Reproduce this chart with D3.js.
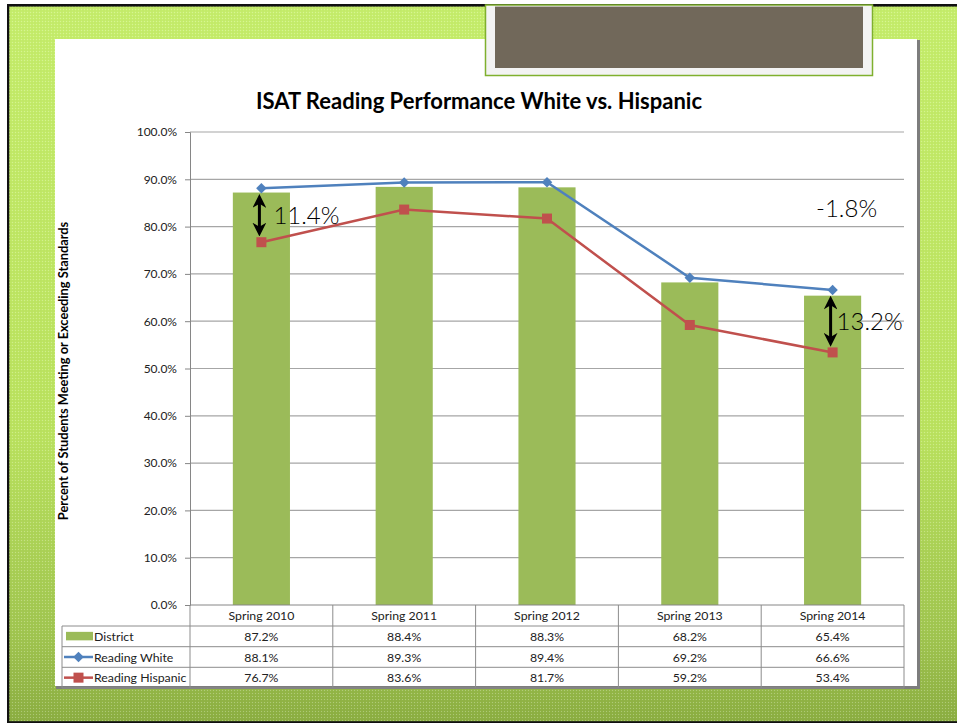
<!DOCTYPE html>
<html>
<head>
<meta charset="utf-8">
<script src="https://cdn.jsdelivr.net/npm/d3@7"></script>
<style>
  body { margin: 0; background: #fff; }
  svg { display: block; font-family: Lato, "Open Sans", sans-serif; }
</style>
</head>
<body>
<div id="viz"></div>
<script>
const width = 957;
const height = 723;

// chart values
const categories = ['Spring 2010', 'Spring 2011', 'Spring 2012', 'Spring 2013', 'Spring 2014'];
const district = [0.872, 0.884, 0.883, 0.682, 0.654];
const readingWhite = [0.881, 0.893, 0.894, 0.692, 0.666];
const readingHispanic = [0.767, 0.836, 0.817, 0.592, 0.534];
const seriesNames = ['District', 'Reading White', 'Reading Hispanic'];
const yTicks = [0, 0.1, 0.2, 0.3, 0.4, 0.5, 0.6, 0.7, 0.8, 0.9, 1.0];
const gapNotes = [{i: 0, text: '11.4%'}, {i: 4, text: '13.2%'}];
const changeNote = '-1.8%';

const colors = {district: '#9bbb59', white: '#4f81bd', hispanic: '#c0504d'};

const svg = d3.select('#viz')
  .append('svg')
    .attr('width', width)
    .attr('height', height);

// slide background
const defs = svg.append('defs');
const grad = defs.append('linearGradient')
    .attr('id', 'bg')
    .attr('x1', 0).attr('y1', 0).attr('x2', 0).attr('y2', 1);
grad.append('stop').attr('offset', '0%').attr('stop-color', '#c6ee6c');
grad.append('stop').attr('offset', '60%').attr('stop-color', '#bbe35f');
grad.append('stop').attr('offset', '88%').attr('stop-color', '#a1c650');
grad.append('stop').attr('offset', '100%').attr('stop-color', '#8caf42');

const pat = defs.append('pattern')
    .attr('id', 'dots')
    .attr('width', 3).attr('height', 3)
    .attr('patternUnits', 'userSpaceOnUse');
pat.append('rect').attr('width', 1).attr('height', 1).attr('fill', '#fff').attr('opacity', 0.28);
pat.append('rect').attr('x', 1.5).attr('y', 1.5).attr('width', 1).attr('height', 1).attr('fill', '#000').attr('opacity', 0.06);

svg.append('rect').attr('x', 7).attr('y', 4).attr('width', width - 7).attr('height', height - 4).attr('fill', '#111');
svg.append('rect').attr('x', 9.3).attr('y', 6.6).attr('width', width - 9.3).attr('height', 714.6).attr('fill', 'url(#bg)');
svg.append('rect').attr('x', 9.3).attr('y', 6.6).attr('width', width - 9.3).attr('height', 714.6).attr('fill', 'url(#dots)');

// white chart panel with shadow
svg.append('rect').attr('x', 56).attr('y', 40).attr('width', 864).attr('height', 649).attr('fill', '#7d7d7d');
svg.append('rect').attr('x', 55).attr('y', 39).attr('width', 862).attr('height', 647).attr('fill', '#fff');

// title box on top
svg.append('rect').attr('x', 485.5).attr('y', 5).attr('width', 387).attr('height', 70.5)
    .attr('fill', '#f3f3f3').attr('stroke', '#7fb02e').attr('stroke-width', 1.5);
svg.append('rect').attr('x', 495).attr('y', 6.6).attr('width', 368).attr('height', 61.4).attr('fill', '#71685a');

// scales
const x = d3.scaleBand().domain(categories).range([190, 904]);
const y = d3.scaleLinear().domain([0, 1]).range([605, 132]);
const bw = x.bandwidth();
const cx = c => x(c) + bw / 2;

svg.append('text')
    .attr('x', 479).attr('y', 109)
    .attr('text-anchor', 'middle')
    .style('font-size', '22px')
    .style('font-weight', 'bold')
    .attr('fill', '#000')
    .text('ISAT Reading Performance White vs. Hispanic');

// gridlines
svg.append('g')
  .selectAll('line')
  .data(yTicks.slice(1))
  .join('line')
    .attr('x1', 190).attr('x2', 904)
    .attr('y1', d => y(d)).attr('y2', d => y(d))
    .attr('stroke', '#a6a6a6')
    .attr('stroke-width', 1.2);

// y axis
const yAxis = svg.append('g')
    .attr('transform', 'translate(190,0)')
    .call(d3.axisLeft(y).tickValues(yTicks).tickFormat(d3.format('.1%')).tickSize(5).tickPadding(8));
yAxis.select('.domain').attr('stroke', '#868686');
yAxis.selectAll('.tick line').attr('stroke', '#868686');
yAxis.selectAll('.tick text')
    .attr('fill', '#222')
    .style('font-size', '12px')
    .style('font-family', 'Lato, sans-serif');

svg.append('text')
    .attr('transform', 'translate(68,371) rotate(-90)')
    .attr('text-anchor', 'middle')
    .style('font-size', '12.8px')
    .style('font-weight', 'bold')
    .attr('fill', '#000')
    .text('Percent of Students Meeting or Exceeding Standards');

// bars
svg.append('g')
  .selectAll('rect')
  .data(district)
  .join('rect')
    .attr('x', (d, i) => x(categories[i]) + bw * 0.3)
    .attr('width', bw * 0.4)
    .attr('y', d => y(d))
    .attr('height', d => y(0) - y(d))
    .attr('fill', colors.district);

// lines
const line = d3.line()
    .x((d, i) => cx(categories[i]))
    .y(d => y(d));

svg.append('path')
    .datum(readingHispanic)
    .attr('d', line)
    .attr('fill', 'none')
    .attr('stroke', colors.hispanic)
    .attr('stroke-width', 2.5);
svg.append('g')
  .selectAll('rect')
  .data(readingHispanic)
  .join('rect')
    .attr('x', (d, i) => cx(categories[i]) - 5)
    .attr('y', d => y(d) - 5)
    .attr('width', 10).attr('height', 10)
    .attr('fill', colors.hispanic);

svg.append('path')
    .datum(readingWhite)
    .attr('d', line)
    .attr('fill', 'none')
    .attr('stroke', colors.white)
    .attr('stroke-width', 2.5);
const diamond = d3.symbol().type(d3.symbolDiamond2).size(70);
svg.append('g')
  .selectAll('path')
  .data(readingWhite)
  .join('path')
    .attr('transform', (d, i) => `translate(${cx(categories[i])},${y(d)})`)
    .attr('d', diamond)
    .attr('fill', colors.white);

// gap arrows and notes
const labelDx = [14, 6];
defs.append('marker')
    .attr('id', 'head')
    .attr('viewBox', '0 0 10 10')
    .attr('refX', 4).attr('refY', 5)
    .attr('markerWidth', 4.6).attr('markerHeight', 4.6)
    .attr('orient', 'auto-start-reverse')
    .attr('markerUnits', 'strokeWidth')
  .append('path')
    .attr('d', 'M0,0 L10,5 L0,10 L3,5 Z')
    .attr('fill', '#000');

gapNotes.forEach((n, k) => {
  const ax = cx(categories[n.i]) - 2;
  const y1 = y(readingWhite[n.i]) + 8;
  const y2 = y(readingHispanic[n.i]) - 8;
  svg.append('line')
      .attr('x1', ax).attr('x2', ax)
      .attr('y1', y1 + 6).attr('y2', y2 - 6)
      .attr('stroke', '#000')
      .attr('stroke-width', 3)
      .attr('marker-start', 'url(#head)')
      .attr('marker-end', 'url(#head)');
  svg.append('text')
      .attr('x', ax + labelDx[k])
      .attr('y', (y1 + y2) / 2 + 8.5)
      .style('font-size', '24px')
      .style('font-weight', 300)
      .attr('fill', '#000')
      .text(n.text);
});

svg.append('text')
    .attr('x', cx(categories[4]) + 14)
    .attr('y', y(0.82))
    .attr('text-anchor', 'middle')
    .style('font-size', '24px')
    .style('font-weight', 300)
    .attr('fill', '#000')
    .text(changeNote);

// data table
const rowTop = [605, 626, 646.7, 667.3, 688];
const grid = svg.append('g').attr('stroke', '#8c8c8c').attr('stroke-width', 1);
rowTop.forEach((ry, i) => {
  grid.append('line')
      .attr('x1', i === 0 ? 190 : 62).attr('x2', 904)
      .attr('y1', ry).attr('y2', ry)
      .attr('stroke', i === 0 ? '#868686' : '#8c8c8c');
});
categories.concat(['end']).forEach((c, i) => {
  const vx = i < categories.length ? x(c) : x.range()[1];
  grid.append('line')
      .attr('x1', vx).attr('x2', vx)
      .attr('y1', 605).attr('y2', 688);
});
grid.append('line').attr('x1', 62).attr('x2', 62).attr('y1', 626).attr('y2', 688);

svg.append('g')
  .selectAll('text')
  .data(categories)
  .join('text')
    .attr('x', d => cx(d))
    .attr('y', (rowTop[0] + rowTop[1]) / 2 + 4.5)
    .attr('text-anchor', 'middle')
    .style('font-size', '12.3px')
    .attr('fill', '#222')
    .text(d => d);

const fmt = d3.format('.1%');
[district, readingWhite, readingHispanic].forEach((series, r) => {
  const my = (rowTop[r + 1] + rowTop[r + 2]) / 2;
  svg.append('g')
    .selectAll('text')
    .data(series)
    .join('text')
      .attr('x', (d, i) => cx(categories[i]))
      .attr('y', my + 4.5)
      .attr('text-anchor', 'middle')
      .style('font-size', '12.3px')
      .attr('fill', '#222')
      .text(d => fmt(d));
  svg.append('text')
      .attr('x', 94)
      .attr('y', my + 4.5)
      .style('font-size', '12.3px')
      .attr('fill', '#222')
      .text(seriesNames[r]);
});

// legend keys
const key1 = (rowTop[1] + rowTop[2]) / 2;
const key2 = (rowTop[2] + rowTop[3]) / 2;
const key3 = (rowTop[3] + rowTop[4]) / 2;
svg.append('rect').attr('x', 66).attr('y', key1 - 4.5).attr('width', 27).attr('height', 8.5).attr('fill', colors.district);
svg.append('line').attr('x1', 64).attr('x2', 93).attr('y1', key2).attr('y2', key2).attr('stroke', colors.white).attr('stroke-width', 2.5);
svg.append('path').attr('transform', `translate(78.5,${key2})`).attr('d', diamond).attr('fill', colors.white);
svg.append('line').attr('x1', 64).attr('x2', 93).attr('y1', key3).attr('y2', key3).attr('stroke', colors.hispanic).attr('stroke-width', 2.5);
svg.append('rect').attr('x', 73.5).attr('y', key3 - 5).attr('width', 10).attr('height', 10).attr('fill', colors.hispanic);
</script>
</body>
</html>
